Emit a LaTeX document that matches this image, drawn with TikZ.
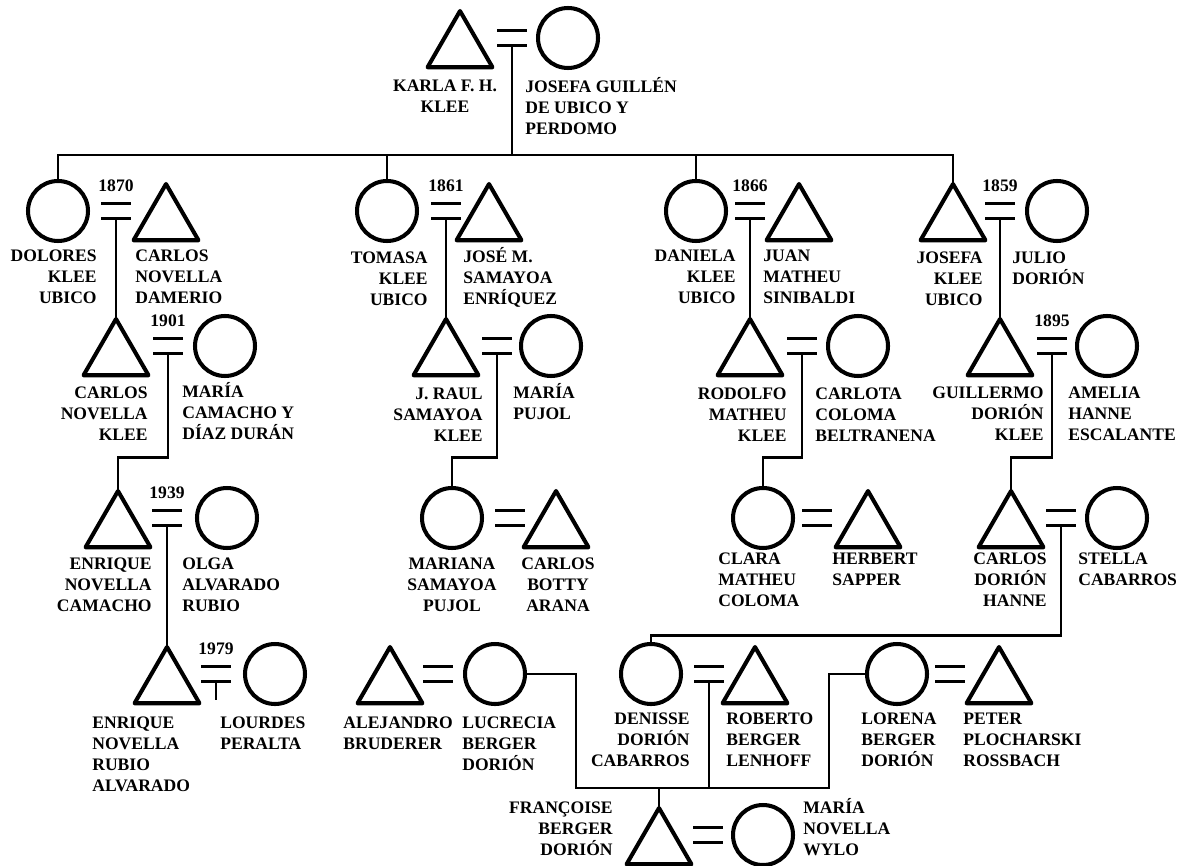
\documentclass[tikz,border=0pt]{standalone}
\usepackage{fontspec}
\setmainfont{Liberation Serif}
\usetikzlibrary{shapes.geometric,calc}
\newcommand{\lblfont}{\fontsize{10pt}{11.9pt}\selectfont\bfseries}

\begin{document}
\begin{tikzpicture}[
    x=0.02cm,y=-0.02cm,
    male/.style={draw,line width=2.3pt,line join=round,regular polygon,regular polygon sides=3,
                 minimum size=1.5cm,inner sep=0pt,outer sep=0pt},
    female/.style={draw,line width=2.3pt,circle,minimum size=1.2cm,inner sep=0pt,outer sep=0pt},
    link/.style={line width=1.5pt},
    bar/.style={line width=1.7pt},
    lbl/.style={font=\lblfont,inner sep=0pt},
    lblL/.style={lbl,align=left,anchor=north west},
    lblR/.style={lbl,align=right,anchor=north east},
    lblC/.style={lbl,align=center,anchor=north},
    year/.style={font=\lblfont,inner sep=0pt},
  ]
  \useasboundingbox (0,0) rectangle (1179,865);

  % rows (middle of the marriage sign)
  \def\rowA{38}  \def\rowB{211} \def\rowC{346}
  \def\rowD{518} \def\rowE{674} \def\rowF{835}

  % marriage sign: #1 = name of the lower bar, #2 = x, #3 = row
  \newcommand{\wed}[3]{
    \draw[bar] (#2,#3) ++(-15,-7.5) -- ++(30,0);
    \draw[bar] (#2,#3) ++(-15,7.5) -- ++(30,0);
    \coordinate (#1) at (#2,#3+7.5);
  }

  % ---------------------------------------------------------------- generation 1
  \node[male]   (karla)   at (460,\rowA+10.5) {};
  \node[female] (josefaG) at (568,\rowA) {};
  \wed{cTop}{512}{\rowA}
  \node[lblC] (tKarla)   at (445,80) {KARLA F. H.\\KLEE};
  \node[lblL] (tJosefaG) at (525,77) {JOSEFA GUILLÉN\\DE UBICO Y\\PERDOMO};

  % ---------------------------------------------------------------- generation 2
  \node[female] (dolores)  at (58,\rowB) {};
  \node[male]   (carlosND) at (166,\rowB+10.5) {};
  \wed{c1870}{116}{\rowB}
  \node[year] (y1870) at (116,186) {1870};

  \node[female] (tomasa) at (387,\rowB) {};
  \node[male]   (jose)   at (489,\rowB+10.5) {};
  \wed{c1861}{446}{\rowB}
  \node[year] (y1861) at (446,186) {1861};

  \node[female] (daniela) at (696,\rowB) {};
  \node[male]   (juan)    at (799,\rowB+10.5) {};
  \wed{c1866}{750}{\rowB}
  \node[year] (y1866) at (750,186) {1866};

  \node[male]   (josefaK) at (953,\rowB+10.5) {};
  \node[female] (julio)   at (1057,\rowB) {};
  \wed{c1859}{1000}{\rowB}
  \node[year] (y1859) at (1000,186) {1859};

  \node[lblR] (tDolores)  at (97,250)   {DOLORES\\KLEE\\UBICO};
  \node[lblL] (tCarlosND) at (135,250)  {CARLOS\\NOVELLA\\DAMERIO};
  \node[lblR] (tTomasa)   at (428,252)  {TOMASA\\KLEE\\UBICO};
  \node[lblL] (tJose)     at (463,247)  {JOSÉ M.\\SAMAYOA\\ENRÍQUEZ};
  \node[lblR] (tDaniela)  at (736,250)  {DANIELA\\KLEE\\UBICO};
  \node[lblL] (tJuan)     at (763,250)  {JUAN\\MATHEU\\SINIBALDI};
  \node[lblR] (tJosefaK)  at (983,252)  {JOSEFA\\KLEE\\UBICO};
  \node[lblL] (tJulio)    at (1012,252) {JULIO\\DORIÓN};

  % sibling line
  \coordinate (sibTop) at (0,155);
  \draw[link] (cTop) -- (cTop |- sibTop);
  \draw[link] (dolores.north) |- (sibTop -| josefaK.north) -- (josefaK.north);
  \draw[link] (tomasa.north) -- (tomasa.north |- sibTop);
  \draw[link] (daniela.north) -- (daniela.north |- sibTop);

  % ---------------------------------------------------------------- generation 3
  \node[male]   (carlosNK) at (116,\rowC+10.5) {};
  \node[female] (mariaC)   at (225,\rowC) {};
  \wed{c1901}{168}{\rowC}
  \node[year] (y1901) at (168,321) {1901};

  \node[male]   (raul)   at (446,\rowC+10.5) {};
  \node[female] (mariaP) at (551,\rowC) {};
  \wed{cRaul}{497}{\rowC}

  \node[male]   (rodolfo) at (750,\rowC+10.5) {};
  \node[female] (carlota) at (858,\rowC) {};
  \wed{cRodolfo}{802}{\rowC}

  \node[male]   (guillermo) at (1000,\rowC+10.5) {};
  \node[female] (amelia)    at (1107,\rowC) {};
  \wed{c1895}{1052}{\rowC}
  \node[year] (y1895) at (1052,321) {1895};

  \draw[link] (c1870) -- (carlosNK.north);
  \draw[link] (c1861) -- (raul.north);
  \draw[link] (c1866) -- (rodolfo.north);
  \draw[link] (c1859) -- (guillermo.north);

  \node[lblR] (tCarlosNK)  at (148,387)  {CARLOS\\NOVELLA\\KLEE};
  \node[lblL] (tMariaC)    at (182,382)  {MARÍA\\CAMACHO Y\\DÍAZ DURÁN};
  \node[lblR] (tRaul)      at (483,388)  {J. RAUL\\SAMAYOA\\KLEE};
  \node[lblL] (tMariaP)    at (513,383)  {MARÍA\\PUJOL};
  \node[lblR] (tRodolfo)   at (787,388)  {RODOLFO\\MATHEU\\KLEE};
  \node[lblL] (tCarlota)   at (815,388)  {CARLOTA\\COLOMA\\BELTRANENA};
  \node[lblR] (tGuillermo) at (1044,387) {GUILLERMO\\DORIÓN\\KLEE};
  \node[lblL] (tAmelia)    at (1068,387) {AMELIA\\HANNE\\ESCALANTE};

  % ---------------------------------------------------------------- generation 4
  \node[male]   (enriqueNC) at (118,\rowD+10.5) {};
  \node[female] (olga)      at (227,\rowD) {};
  \wed{c1939}{167}{\rowD}
  \node[year] (y1939) at (167,493) {1939};

  \node[female] (mariana) at (452,\rowD) {};
  \node[male]   (botty)   at (556,\rowD+10.5) {};
  \wed{cMariana}{510}{\rowD}

  \node[female] (clara)   at (763,\rowD) {};
  \node[male]   (herbert) at (868,\rowD+10.5) {};
  \wed{cClara}{817}{\rowD}

  \node[male]   (carlosDH) at (1011,\rowD+10.5) {};
  \node[female] (stella)   at (1117,\rowD) {};
  \wed{cStella}{1061}{\rowD}

  \draw[link] (c1901) -- ++(0,104) -| (enriqueNC.north);
  \draw[link] (cRaul) -- ++(0,104) -| (mariana.north);
  \draw[link] (cRodolfo) -- ++(0,104) -| (clara.north);
  \draw[link] (c1895) -- ++(0,104) -| (carlosDH.north);

  \node[lblR] (tEnriqueNC) at (152,558)  {ENRIQUE\\NOVELLA\\CAMACHO};
  \node[lblL] (tOlga)      at (182,558)  {OLGA\\ALVARADO\\RUBIO};
  \node[lblC] (tMariana)   at (452,558)  {MARIANA\\SAMAYOA\\PUJOL};
  \node[lblC] (tBotty)     at (558,558)  {CARLOS\\BOTTY\\ARANA};
  \node[lblL] (tClara)     at (718,553)  {CLARA\\MATHEU\\COLOMA};
  \node[lblL] (tHerbert)   at (832,553)  {HERBERT\\SAPPER};
  \node[lblR] (tCarlosDH)  at (1047,553) {CARLOS\\DORIÓN\\HANNE};
  \node[lblL] (tStella)    at (1078,553) {STELLA\\CABARROS};

  % ---------------------------------------------------------------- generation 5
  \node[male]   (enriqueNR) at (167,\rowE+10.5) {};
  \node[female] (lourdes)   at (275,\rowE) {};
  \wed{c1979}{216}{\rowE}
  \node[year] (y1979) at (216,649) {1979};
  \coordinate (stem79) at (216,700);
  \draw[link] (c1979) -- (stem79);

  \node[male]   (alejandro) at (390,\rowE+10.5) {};
  \node[female] (lucrecia)  at (495,\rowE) {};
  \wed{cAlejandro}{438}{\rowE}

  \node[female] (denisse) at (651,\rowE) {};
  \node[male]   (roberto) at (755,\rowE+10.5) {};
  \wed{cDenisse}{709}{\rowE}

  \node[female] (lorena) at (897,\rowE) {};
  \node[male]   (peter)  at (999,\rowE+10.5) {};
  \wed{cLorena}{950}{\rowE}

  \draw[link] (c1939) -- (enriqueNR.north);
  \draw[link] (cStella) -- ++(0,110) -| (denisse.north);

  % children of Denisse and Roberto
  \coordinate (sibL) at (576,788);
  \coordinate (sibR) at (829,788);
  \draw[link] (lucrecia.east) -| (sibL) -- (sibR) |- (lorena.west);
  \draw[link] (cDenisse) -- (cDenisse |- sibL);

  \node[lblL] (tEnriqueNR) at (92,717)  {ENRIQUE\\NOVELLA\\RUBIO\\ALVARADO};
  \node[lblL] (tLourdes)   at (220,717) {LOURDES\\PERALTA};
  \node[lblL] (tAlejandro) at (343,717) {ALEJANDRO\\BRUDERER};
  \node[lblL] (tLucrecia)  at (462,717) {LUCRECIA\\BERGER\\DORIÓN};
  \node[lblR] (tDenisse)   at (690,713) {DENISSE\\DORIÓN\\CABARROS};
  \node[lblL] (tRoberto)   at (726,713) {ROBERTO\\BERGER\\LENHOFF};
  \node[lblL] (tLorena)    at (861,713) {LORENA\\BERGER\\DORIÓN};
  \node[lblL] (tPeter)     at (963,713) {PETER\\PLOCHARSKI\\ROSSBACH};

  % ---------------------------------------------------------------- generation 6
  \node[male]   (francoise) at (659,\rowF+10.5) {};
  \node[female] (mariaN)    at (763,\rowF) {};
  \wed{cFrancoise}{708}{\rowF}
  \draw[link] (francoise.north) -- (francoise.north |- sibL);

  \node[lblR] (tFrancoise) at (613,802) {FRANÇOISE\\BERGER\\DORIÓN};
  \node[lblL] (tMariaN)    at (803,798) {MARÍA\\NOVELLA\\WYLO};
\end{tikzpicture}
\end{document}
